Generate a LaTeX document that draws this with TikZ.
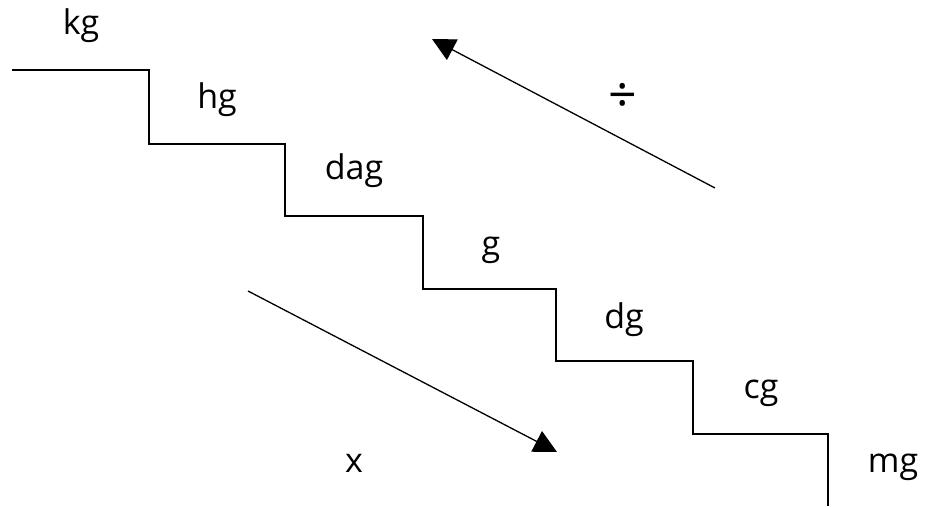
\documentclass[tikz,border=0pt]{standalone}
\usepackage{fontspec}
\setmainfont{Open Sans}
\usetikzlibrary{arrows.meta,positioning}

\begin{document}
\begin{tikzpicture}[
x=1pt,y=-1pt,
unit/.style={anchor=base,inner sep=0pt,font=\fontsize{34}{40}\selectfont},
stair/.style={line width=2pt,line join=miter},
arr/.style={-{Triangle[length=23pt,width=23pt]},line width=1.3pt}
]
\useasboundingbox (0,0) rectangle (950,506);

% staircase corners
\coordinate (s0) at (12,70);
\coordinate (s1) at (149,70);
\coordinate (s2) at (149,144);
\coordinate (s3) at (285,144);
\coordinate (s4) at (285,216);
\coordinate (s5) at (423,216);
\coordinate (s6) at (423,289);
\coordinate (s7) at (556,289);
\coordinate (s8) at (556,361);
\coordinate (s9) at (693,361);
\coordinate (s10) at (693,434);
\coordinate (s11) at (828,434);
\coordinate (s12) at (828,506);
\draw[stair] (s0)--(s1)--(s2)--(s3)--(s4)--(s5)--(s6)--(s7)--(s8)--(s9)--(s10)--(s11)--(s12);

\node[unit] (kg) at (81,34) {kg};
\node[unit] (hg) at (217,108) {hg};
\node[unit] (dag) at (354,179) {dag};
\node[unit] (g) at (491,255) {g};
\node[unit] (dg) at (624,328) {dg};
\node[unit] (cg) at (761,398) {cg};
\node[unit] (mg) at (893,472) {mg};

% conversion arrows
\coordinate (divfrom) at (715,188);
\coordinate (divto) at (432,39);
\draw[arr] (divfrom)--(divto);
\node[unit,anchor=center,font=\fontsize{50}{56}\selectfont] (div) at (623,98) {÷};

\coordinate (mulfrom) at (248,291);
\coordinate (multo) at (557,452);
\draw[arr] (mulfrom)--(multo);
\node[unit,anchor=center] (mul) at (354,463) {x};
\end{tikzpicture}
\end{document}
